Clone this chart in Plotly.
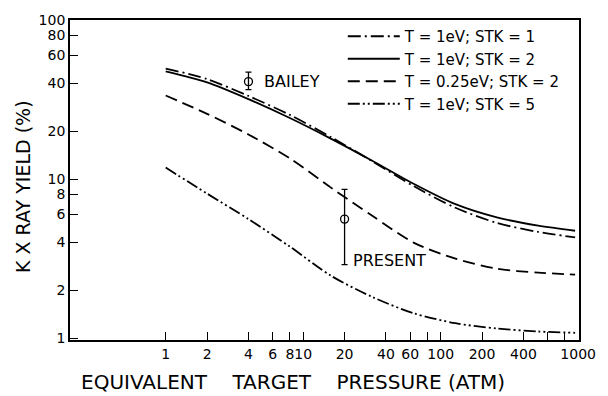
import plotly.graph_objects as go
import numpy as np

# ---- data ----
pressure = [1, 2, 4, 8, 16, 32, 64, 128, 256, 512, 950]          # atm
stk1_t1 = [49.5, 42.5, 33.3, 25.3, 18.3, 12.9, 9.0, 6.6, 5.3, 4.65, 4.3]
stk2_t1 = [47.5, 40.5, 31.8, 24.2, 17.9, 13.0, 9.31, 6.95, 5.74, 5.09, 4.73]
stk2_t025 = [33.5, 25.7, 19.05, 13.5, 8.8, 5.85, 3.97, 3.16, 2.73, 2.58, 2.51]
stk5_t1 = [11.8, 8.1, 5.6, 3.76, 2.46, 1.81, 1.43, 1.24, 1.15, 1.10, 1.08]

series_names = ["T = 1eV; STK = 1", "T = 1eV; STK = 2",
                "T = 0.25eV; STK = 2", "T = 1eV; STK = 5"]
series_values = [stk1_t1, stk2_t1, stk2_t025, stk5_t1]
series_dash = ["13px,4px,2px,4px", "solid", "12px,6px", "12px,3px,2px,3px,2px,3px"]

bailey_x = [4]
bailey_y = [41]
bailey_hi = [47]
bailey_lo = [36.5]

present_x = [20]
present_y = [5.6]
present_hi = [8.6]
present_lo = [2.9]

x_tickvals = [1, 2, 4, 6, 8, 10, 20, 40, 60, 80, 100, 200, 400, 600, 800, 1000]
x_ticktext = ["1", "2", "4", "6", "8", "10", "20", "40", "60", "", "100", "200", "400", "", "", "1000"]
y_tickvals = [1, 2, 4, 6, 8, 10, 20, 40, 60, 80, 100]
y_ticktext = ["1", "2", "4", "6", "8", "10", "20", "40", "60", "80", "100"]

FONT = "DejaVu Sans"

fig = go.Figure()
for i, (name, vals, dash) in enumerate(zip(series_names, series_values, series_dash)):
    fig.add_trace(go.Scatter(
        x=pressure, y=vals, mode="lines", name=name,
        line=dict(color="black", width=1.8, dash=dash, shape="spline", smoothing=0.8),
        legendgroup=f"g{i}", showlegend=True))

for xs, ys, hi, lo in [(bailey_x, bailey_y, bailey_hi, bailey_lo),
                       (present_x, present_y, present_hi, present_lo)]:
    fig.add_trace(go.Scatter(
        x=xs, y=ys, mode="markers", showlegend=False,
        marker=dict(symbol="circle-open", size=8, color="black", line=dict(width=1.3)),
        error_y=dict(type="data", symmetric=False,
                     array=[h - v for h, v in zip(hi, ys)],
                     arrayminus=[v - l for v, l in zip(ys, lo)],
                     color="black", thickness=1.3, width=3)))

fig.add_annotation(x=np.log10(5.0), y=np.log10(bailey_y[0]), text="BAILEY",
                   showarrow=False, xanchor="left", yanchor="middle",
                   font=dict(family=FONT, size=16, color="black"))
fig.add_annotation(x=np.log10(22.3), y=np.log10(3.08), text="PRESENT",
                   showarrow=False, xanchor="left", yanchor="middle",
                   font=dict(family=FONT, size=16, color="black"))

fig.add_annotation(xref="paper", yref="paper", x=(23 - 70) / 515, y=(340 - 184) / 325,
                   text="K X RAY YIELD (%)", textangle=-90, showarrow=False,
                   xanchor="center", yanchor="middle",
                   font=dict(family=FONT, size=19, color="black"))
fig.add_annotation(xref="paper", yref="paper", x=(296 - 70) / 515, y=(340 - 383) / 325,
                   text="EQUIVALENT&nbsp;&nbsp;&nbsp;&nbsp;TARGET&nbsp;&nbsp;&nbsp;&nbsp;PRESSURE (ATM)",
                   showarrow=False, xanchor="center", yanchor="middle",
                   font=dict(family=FONT, size=20, color="black"))

fig.update_xaxes(type="log", range=[-0.696, 3.006],
                 tickvals=x_tickvals, ticktext=x_ticktext, tickangle=0,
                 ticks="inside", ticklen=8, tickwidth=1.3, tickcolor="black",
                 showline=True, linecolor="black", linewidth=1.8, mirror=True,
                 showgrid=False, zeroline=False,
                 tickfont=dict(family=FONT, size=14, color="black"))
fig.update_yaxes(type="log", range=[-0.012, 2.0],
                 tickvals=y_tickvals, ticktext=y_ticktext,
                 ticks="inside", ticklen=8, tickwidth=1.3, tickcolor="black",
                 showline=True, linecolor="black", linewidth=1.8, mirror=True,
                 showgrid=False, zeroline=False,
                 tickfont=dict(family=FONT, size=14, color="black"))

fig.update_layout(
    width=608, height=396,
    margin=dict(l=70, r=23, t=15, b=56),
    paper_bgcolor="white", plot_bgcolor="white",
    showlegend=True,
    legend=dict(x=(346 - 70) / 515, y=(340 - 15) / 325, xanchor="left", yanchor="top",
                bgcolor="rgba(0,0,0,0)", borderwidth=0, tracegroupgap=0,
                font=dict(family=FONT, size=15, color="black"), itemwidth=52),
)

fig.write_html("out.html")
